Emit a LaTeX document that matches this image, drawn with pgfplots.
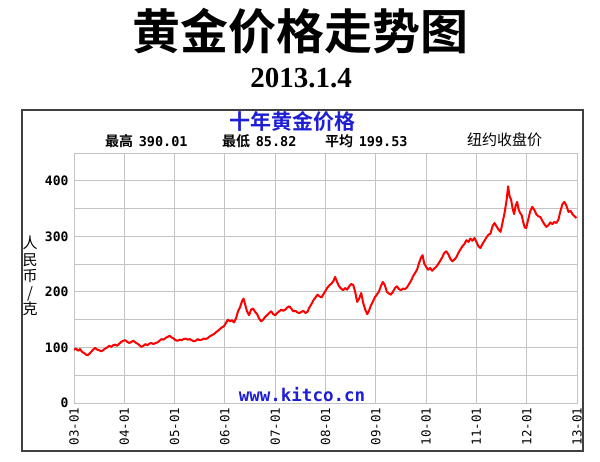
\documentclass[border=0pt]{standalone}
\usepackage{fontspec}
\usepackage{pgfplots}
\usepackage{pgfplotstable}
\pgfplotsset{compat=1.18}
\setmainfont{Liberation Serif}
\setmonofont{DejaVu Sans Mono}
\newfontfamily\cjk{Noto Sans CJK SC}[BoldFont={Noto Sans CJK SC Bold}]
\definecolor{kblue}{RGB}{30,30,210}
\definecolor{gridgray}{RGB}{195,195,195}
\pgfplotstableread{
x y
2003.00 96
2003.04 98
2003.08 94
2003.12 97
2003.16 92
2003.20 90
2003.24 87
2003.27 86
2003.31 89
2003.35 93
2003.39 97
2003.42 99
2003.46 96
2003.50 95
2003.54 93
2003.58 95
2003.62 98
2003.66 100
2003.70 103
2003.74 101
2003.78 104
2003.82 105
2003.86 103
2003.90 107
2003.94 110
2003.98 112
2004.02 113
2004.06 110
2004.10 108
2004.14 110
2004.18 112
2004.22 109
2004.26 107
2004.30 104
2004.34 101
2004.38 103
2004.42 106
2004.46 104
2004.50 107
2004.54 108
2004.58 106
2004.62 108
2004.66 109
2004.70 112
2004.74 115
2004.78 114
2004.82 117
2004.86 119
2004.90 121
2004.94 118
2004.98 116
2005.02 113
2005.06 112
2005.10 114
2005.14 113
2005.18 115
2005.22 116
2005.26 114
2005.30 115
2005.34 113
2005.38 111
2005.42 112
2005.46 115
2005.50 113
2005.54 114
2005.58 116
2005.62 115
2005.66 117
2005.70 120
2005.74 122
2005.78 124
2005.82 127
2005.86 130
2005.90 133
2005.94 136
2005.98 138
2006.02 144
2006.06 150
2006.10 147
2006.14 149
2006.18 145
2006.22 152
2006.26 165
2006.30 172
2006.34 183
2006.37 188
2006.40 178
2006.44 165
2006.48 158
2006.52 168
2006.56 170
2006.60 164
2006.64 160
2006.68 152
2006.72 147
2006.76 150
2006.80 155
2006.84 158
2006.88 162
2006.92 165
2006.96 160
2007.00 158
2007.04 162
2007.08 165
2007.12 168
2007.16 166
2007.20 168
2007.24 172
2007.28 174
2007.32 170
2007.36 165
2007.40 166
2007.44 163
2007.48 162
2007.52 164
2007.56 166
2007.60 162
2007.64 164
2007.68 172
2007.72 178
2007.76 185
2007.80 190
2007.84 195
2007.88 192
2007.92 190
2007.96 196
2008.00 202
2008.04 208
2008.08 212
2008.12 215
2008.16 220
2008.19 227
2008.23 218
2008.27 210
2008.31 206
2008.35 203
2008.39 207
2008.43 204
2008.47 210
2008.51 214
2008.55 213
2008.59 200
2008.63 182
2008.67 188
2008.71 198
2008.75 180
2008.79 168
2008.83 160
2008.86 165
2008.90 175
2008.94 182
2008.98 190
2009.02 195
2009.06 200
2009.10 210
2009.14 218
2009.18 212
2009.22 200
2009.26 197
2009.30 195
2009.34 200
2009.38 207
2009.42 210
2009.46 205
2009.50 203
2009.54 206
2009.58 205
2009.62 208
2009.66 214
2009.70 220
2009.74 228
2009.78 234
2009.82 240
2009.86 252
2009.90 262
2009.93 266
2009.96 252
2010.00 245
2010.04 240
2010.08 243
2010.12 238
2010.16 242
2010.20 245
2010.24 250
2010.28 256
2010.32 262
2010.36 270
2010.40 273
2010.44 268
2010.48 260
2010.52 255
2010.56 258
2010.60 262
2010.64 270
2010.68 276
2010.72 282
2010.76 286
2010.80 293
2010.84 290
2010.88 296
2010.92 292
2010.96 297
2011.00 290
2011.04 282
2011.08 279
2011.12 286
2011.16 292
2011.20 298
2011.24 303
2011.28 305
2011.32 318
2011.36 324
2011.40 318
2011.44 312
2011.48 308
2011.52 325
2011.56 342
2011.60 365
2011.63 390
2011.66 372
2011.69 366
2011.72 350
2011.75 340
2011.78 355
2011.81 362
2011.84 348
2011.87 342
2011.90 338
2011.93 326
2011.96 316
2011.99 315
2012.03 330
2012.07 345
2012.11 353
2012.15 348
2012.19 340
2012.23 336
2012.27 335
2012.31 328
2012.35 322
2012.39 317
2012.43 320
2012.47 325
2012.51 322
2012.55 326
2012.59 324
2012.63 330
2012.67 345
2012.71 358
2012.75 362
2012.79 355
2012.83 344
2012.87 346
2012.91 340
2012.95 336
2012.99 333
}\gold
\begin{document}
\begin{tikzpicture}
\begin{scope}[x=1pt,y=1pt]
\useasboundingbox (0,0) rectangle (600,462);
\fill[white] (0,0) rectangle (600,462);
\node[font=\cjk\bfseries\fontsize{48}{52}\selectfont] at (300,431) {黄金价格走势图};
\node[font=\bfseries\fontsize{29}{32}\selectfont] at (301,384) {2013.1.4};
\draw[line width=1.5pt, black!75] (22,11) rectangle (583,352);
\node[font=\cjk\bfseries\fontsize{21}{24}\selectfont, text=kblue] at (292,341) {十年黄金价格};
\node[anchor=west, inner sep=0pt] at (105,321) {\cjk\bfseries\fontsize{14}{16}\selectfont 最高\hspace{0.4em}\ttfamily\bfseries\fontsize{13.5}{16}\selectfont 390.01};
\node[anchor=west, inner sep=0pt] at (222,321) {\cjk\bfseries\fontsize{14}{16}\selectfont 最低\hspace{0.4em}\ttfamily\bfseries\fontsize{13.5}{16}\selectfont 85.82};
\node[anchor=west, inner sep=0pt] at (325,321) {\cjk\bfseries\fontsize{14}{16}\selectfont 平均\hspace{0.4em}\ttfamily\bfseries\fontsize{13.5}{16}\selectfont 199.53};
\node[anchor=west, inner sep=0pt, font=\cjk\fontsize{15}{17}\selectfont] at (467,322) {纽约收盘价};
\node[font=\cjk\fontsize{15}{16.5}\selectfont, align=center, inner sep=0pt] at (30,186) {人\\民\\币\\/\\克};
\end{scope}
\begin{axis}[
  at={(74pt,59pt)}, anchor=south west, scale only axis,
  width=503pt, height=250pt,
  xmin=2003, xmax=2013, ymin=0, ymax=450,
  xtick={2003,2004,2005,2006,2007,2008,2009,2010,2011,2012,2013},
  xticklabels={03-01,04-01,05-01,06-01,07-01,08-01,09-01,10-01,11-01,12-01,13-01},
  ytick={0,100,200,300,400},
  minor ytick={50,150,250,350,450},
  grid=both,
  major grid style={gridgray, line width=0.9pt},
  minor grid style={gridgray, line width=0.9pt},
  axis line style={gridgray, line width=0.9pt},
  tick style={draw=none},
  /pgf/number format/assume math mode=true,
  yticklabel style={font=\ttfamily\bfseries\fontsize{13}{15}\selectfont, xshift=-2pt},
  xticklabel style={font=\ttfamily\fontsize{12.5}{14}\selectfont, rotate=90, anchor=east, xshift=-1pt},
  scaled ticks=false,
  clip=true,
]
\addplot[red, line width=2pt, line join=round] table[x=x, y=y] {\gold};
\end{axis}
\begin{scope}[x=1pt,y=1pt]
\node[font=\ttfamily\bfseries\fontsize{17.5}{19}\selectfont, text=kblue] at (302,67) {www.kitco.cn};
\end{scope}
\end{tikzpicture}
\end{document}
